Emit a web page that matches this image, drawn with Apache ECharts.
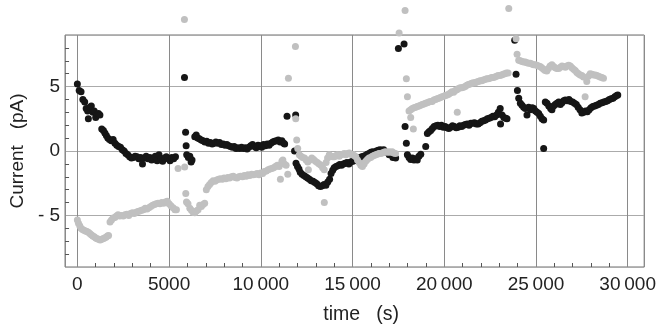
<!DOCTYPE html>
<html><head><meta charset="utf-8">
<script src="https://cdn.jsdelivr.net/npm/echarts@6/dist/echarts.min.js"></script>
<style>html,body{margin:0;padding:0;background:#fff}#c{width:659px;height:333px}</style>
</head><body><div id="c"></div><script>
const xTickValues = [0, 5000, 10000, 15000, 20000, 25000, 30000];
const xTickLabels = ['0', '5000', '10\u2009000', '15\u2009000', '20\u2009000', '25\u2009000', '30\u2009000'];
const yTickValues = [-5, 0, 5];
const yTickLabels = ['- 5', '0', '5'];
const xMinorTicks = [1000,2000,3000,4000,6000,7000,8000,9000,11000,12000,13000,14000,16000,17000,18000,19000,21000,22000,23000,24000,26000,27000,28000,29000];
const yMinorTicks = [-8,-7,-6,-4,-3,-2,-1,1,2,3,4,6,7,8];
const xName = 'time   (s)';
const yName = 'Current   (pA)';

const blackSeries = [
[0,5.2],[100,4.7],[200,4.6],[300,4.0],[400,3.8],[480,3.3],[560,3.1],[600,2.5],[680,3.4],[760,3.5],[850,3.0],[920,3.1],[1000,2.6],[1080,2.8],[1150,2.9],[1230,2.8],[1330,1.7],[1420,1.6],[1500,1.4],[1580,1.2],[1660,1.0],[1750,0.9],[1850,0.8],[1950,0.9],[2050,0.6],[2150,0.45],[2250,0.35],[2350,0.3],[2450,0.1],[2550,0.0],[2650,-0.2],[2750,-0.3],[2850,-0.45],[2950,-0.55],[3050,-0.5],[3150,-0.4],[3250,-0.45],[3350,-0.6],[3450,-0.5],[3550,-1.0],[3650,-0.55],[3750,-0.4],[3850,-0.6],[3950,-0.5],[4050,-0.7],[4150,-0.55],[4250,-0.4],[4350,-0.75],[4450,-0.3],[4550,-0.6],[4650,-0.8],[4750,-0.55],[4850,-0.45],[4950,-0.6],[5050,-0.75],[5150,-0.5],[5250,-0.6],[5350,-0.45],
[5840,5.7],[5900,1.45],[5930,0.4],[5960,-0.3],[6050,-0.5],[6130,-0.4],[6200,-0.85],[6250,-0.7],
[6400,1.1],[6480,1.25],[6560,1.0],[6650,0.95],[6750,0.85],[6850,0.8],[6950,0.7],[7050,0.75],[7150,0.6],[7250,0.65],[7350,0.55],[7450,0.6],[7550,0.7],[7650,0.6],[7750,0.65],[7850,0.5],[7950,0.55],[8050,0.45],[8150,0.5],[8250,0.4],[8350,0.35],[8450,0.3],[8550,0.35],[8650,0.2],[8750,0.25],[8850,0.2],[8950,0.3],[9050,0.2],[9150,0.25],[9250,0.15],[9350,0.3],[9450,0.4],[9550,0.5],[9650,0.35],[9750,0.25],[9850,0.45],[9950,0.4],[10050,0.3],[10150,0.5],[10250,0.4],[10350,0.55],[10450,0.45],[10550,0.6],[10650,0.7],[10750,0.75],[10850,0.8],[10950,0.85],[11050,0.7],[11150,0.8],[11250,0.6],[11300,0.55],
[11430,2.7],[11900,2.8],[11840,0.0],[11920,-0.95],[12000,-1.2],[12080,-1.4],[12150,-1.65],[12250,-1.8],[12350,-1.9],[12450,-2.0],[12550,-2.1],[12650,-2.2],[12750,-2.3],[12850,-2.35],[12950,-2.45],[13050,-2.55],[13150,-2.7],[13250,-2.75],[13350,-2.7],[13450,-2.6],[13550,-2.65],[13650,-2.4],[13750,-2.2],[13830,-1.75],[13920,-1.5],[14000,-1.3],[14100,-1.2],[14200,-1.15],[14300,-1.05],[14400,-1.1],[14500,-1.0],[14600,-0.95],[14700,-0.9],[14800,-1.0],[14900,-0.85],[15000,-0.8],[15100,-0.75],[15200,-0.7],[15300,-0.6],[15400,-0.5],[15500,-0.45],[15600,-0.4],[15700,-0.35],[15800,-0.25],[15900,-0.2],[16000,-0.1],[16100,-0.05],[16200,-0.1],[16300,0.0],[16400,0.05],[16500,0.1],[16600,0.05],[16700,0.1],[16850,-0.1],[17000,-0.3],[17200,-0.5],[17350,-0.55],
[17500,7.95],[17810,8.3],[17865,1.9],[17935,0.6],[17990,-0.3],[18080,-0.5],[18170,-0.65],[18260,-0.55],[18350,-0.7],[18450,-0.6],[18530,-0.7],[18620,-0.4],[18720,-0.25],[18990,0.35],[19080,1.35],[19170,1.5],[19260,1.6],[19350,1.75],[19450,1.9],[19550,1.95],[19650,2.0],[19750,1.9],[19850,2.0],[19950,1.85],[20050,1.9],[20150,1.8],[20250,1.75],[20350,1.85],[20450,1.95],[20550,1.9],[20650,1.8],[20750,1.85],[20850,1.95],[20950,1.9],[21050,2.0],[21150,2.05],[21250,2.1],[21350,2.0],[21450,2.15],[21550,2.15],[21650,2.2],[21750,2.1],[21850,2.1],[21950,2.2],[22050,2.3],[22150,2.35],[22250,2.4],[22350,2.5],[22450,2.55],[22550,2.6],[22650,2.7],[22750,2.65],[22850,2.8],[22950,3.0],[23050,3.3],[23070,2.1],[23150,2.8],[23250,2.6],[23350,2.55],[23420,2.5],
[23840,8.6],[23915,5.95],[23990,4.7],[24060,4.1],[24150,3.7],[24240,3.55],[24330,3.4],[24420,3.3],[24510,2.8],[24600,3.4],[24700,3.2],[24800,3.35],[24880,3.3],[24970,3.1],[25060,3.0],[25150,2.9],[25240,2.7],[25330,2.5],[25420,0.2],[25420,2.4],[25510,3.8],[25600,3.7],[25700,3.5],[25800,3.3],[25870,3.2],[25960,3.5],[26050,3.6],[26140,3.7],[26240,3.8],[26330,3.6],[26420,3.75],[26510,3.9],[26600,3.95],[26700,3.9],[26800,4.0],[26900,3.85],[27000,3.8],[27100,3.7],[27200,3.6],[27300,3.4],[27400,3.2],[27500,2.95],[27600,3.0],[27700,3.1],[27800,3.05],[27900,3.2],[28000,3.35],[28100,3.45],[28200,3.5],[28300,3.55],[28400,3.6],[28500,3.7],[28600,3.75],[28700,3.8],[28800,3.85],[28900,3.9],[29000,4.0],[29100,4.05],[29200,4.1],[29300,4.2],[29400,4.3],[29460,4.35]
];

const graySeries = [
[0,-5.35],[60,-5.6],[130,-5.8],[200,-6.0],[280,-6.1],[360,-6.15],[440,-6.2],[520,-6.25],[600,-6.3],[680,-6.4],[760,-6.5],[840,-6.6],[920,-6.65],[1000,-6.75],[1080,-6.8],[1160,-6.85],[1240,-6.9],[1320,-6.85],[1400,-6.8],[1480,-6.75],[1560,-6.7],[1640,-6.6],[1700,-6.55],
[1780,-5.5],[1860,-5.35],[1950,-5.2],[2040,-5.15],[2130,-5.05],[2220,-4.95],[2310,-5.05],[2400,-5.0],[2500,-5.05],[2600,-4.95],[2700,-4.9],[2800,-5.0],[2900,-4.85],[3000,-4.8],[3100,-4.85],[3200,-4.75],[3300,-4.7],[3400,-4.65],[3500,-4.6],[3600,-4.55],[3700,-4.45],[3800,-4.5],[3900,-4.4],[4000,-4.3],[4100,-4.2],[4200,-4.15],[4300,-4.1],[4400,-4.05],[4500,-4.1],[4600,-4.0],[4700,-4.05],[4800,-3.95],[4900,-3.9],[5000,-4.1],[5100,-4.25],[5220,-4.4],[5320,-4.55],[5400,-4.55],
[5490,-1.35],[5850,-1.25],[5836,10.2],[5910,-3.3],[5950,-3.95],[6030,-4.1],[6130,-4.45],[6220,-4.6],[6310,-4.75],[6400,-4.8],[6490,-4.65],[6580,-4.55],[6670,-4.2],[6760,-4.3],[6850,-4.15],[6940,-4.05],
[7030,-3.0],[7120,-2.75],[7210,-2.6],[7300,-2.45],[7400,-2.3],[7500,-2.35],[7600,-2.25],[7700,-2.2],[7800,-2.15],[7900,-2.2],[8000,-2.1],[8100,-2.15],[8200,-2.05],[8300,-2.1],[8400,-2.0],[8500,-1.95],[8600,-2.05],[8700,-2.1],[8800,-2.0],[8900,-1.95],[9000,-2.0],[9100,-1.9],[9200,-1.95],[9300,-1.85],[9400,-1.9],[9500,-1.8],[9600,-1.85],[9700,-1.8],[9800,-1.75],[9900,-1.85],[10000,-1.7],[10100,-1.75],[10200,-1.6],[10300,-1.55],[10400,-1.45],[10500,-1.4],[10600,-1.35],[10700,-1.3],[10800,-1.2],[10900,-1.1],[11000,-1.2],[11070,-2.2],[11150,-0.8],[11200,-0.7],[11290,-1.0],[11380,-1.1],[11470,-1.8],
[11506,5.65],[11887,8.1],[11904,2.5],[11957,0.85],[12012,0.2],[12100,-0.3],[12190,-0.4],[12280,-0.5],[12380,-0.55],[12470,-0.7],[12560,-0.85],[12594,-1.45],[12680,-0.7],[12780,-0.55],[12880,-0.65],[12980,-0.8],[13080,-0.9],[13180,-1.0],[13280,-1.1],[13370,-1.3],[13460,-1.45],[13462,-4.0],[13560,-0.9],[13640,-0.55],[13734,-0.3],[13830,-0.4],[13920,-0.45],[14010,-0.45],[14100,-0.35],[14190,-0.3],[14280,-0.4],[14370,-0.3],[14460,-0.25],[14550,-0.2],[14640,-0.3],[14730,-0.2],[14820,-0.15],[14910,-0.25],[15000,-0.3],[15090,-0.35],[15180,-0.45],[15270,-0.7],[15360,-0.9],[15450,-1.1],[15540,-1.2],[15630,-1.0],[15720,-0.8],[15810,-0.65],[15900,-0.55],[15990,-0.5],[16080,-0.4],[16170,-0.35],[16260,-0.3],[16350,-0.25],[16440,-0.2],[16530,-0.2],[16620,-0.15],[16710,-0.1],[16800,-0.05],[16890,-0.1],[16980,-0.05],[17070,-0.1],[17160,-0.05],[17250,-0.15],[17340,-0.2],
[17540,9.15],[17865,10.9],[17935,5.6],[17993,4.2],[18172,2.6],[18316,1.7],
[18080,3.1],[18170,3.2],[18260,3.3],[18350,3.35],[18440,3.4],[18530,3.45],[18620,3.5],[18710,3.55],[18800,3.6],[18890,3.65],[18980,3.7],[19070,3.75],[19160,3.8],[19250,3.85],[19340,3.85],[19430,3.95],[19520,4.0],[19610,4.05],[19700,4.1],[19790,4.15],[19880,4.2],[19970,4.25],[20060,4.3],[20150,4.35],[20240,4.4],[20330,4.5],[20420,4.6],[20510,4.55],[20600,4.7],[20690,4.75],[20710,3.0],[20780,4.85],[20870,4.9],[20960,4.9],[21050,4.95],[21140,5.0],[21230,5.1],[21320,5.15],[21410,5.2],[21500,5.25],[21590,5.3],[21680,5.3],[21770,5.35],[21860,5.4],[21950,5.45],[22040,5.45],[22130,5.5],[22220,5.55],[22310,5.6],[22400,5.6],[22490,5.65],[22580,5.7],[22670,5.7],[22760,5.75],[22850,5.8],[22940,5.85],[23030,5.85],[23120,5.9],[23210,5.95],[23300,6.0],[23390,6.05],[23480,6.05],
[23517,11.05],[23915,8.7],[23970,7.5],[24060,7.05],[24150,7.0],[24240,6.95],[24330,6.9],[24420,6.9],[24510,6.85],[24600,6.8],[24690,6.8],[24780,6.75],[24870,6.7],[24960,6.7],[25050,6.65],[25140,6.6],[25230,6.55],[25320,6.45],[25410,6.35],[25500,6.25],[25590,6.2],[25680,6.4],[25770,6.6],[25870,6.7],[25960,6.55],[26050,6.45],[26140,6.4],[26240,6.4],[26330,6.5],[26420,6.6],[26510,6.55],[26600,6.5],[26690,6.6],[26780,6.65],[26870,6.6],[26960,6.45],[27050,6.35],[27140,6.25],[27230,6.1],[27320,6.0],[27410,5.9],[27500,5.85],[27590,5.75],[27680,4.2],[27770,5.4],[27860,5.8],[27955,6.0],[28050,5.95],[28140,5.9],[28230,5.9],[28320,5.85],[28410,5.8],[28500,5.75],[28590,5.7],[28680,5.65]
];

const FONT = '"Liberation Sans", Arial, sans-serif';
const chart = echarts.init(document.getElementById('c'), null, {renderer: 'canvas'});
const xFmt = v => { const i = xTickValues.indexOf(v); return i >= 0 ? xTickLabels[i] : ''; };
const yFmt = v => { const i = yTickValues.indexOf(v); return i >= 0 ? yTickLabels[i] : ''; };
chart.setOption({
  animation: false,
  backgroundColor: '#fff',
  grid: {left: 65, top: 35, width: 581, height: 232, show: true, borderColor: '#6e6e6e', borderWidth: 1, backgroundColor: 'transparent'},
  xAxis: [
    {type: 'value', min: -670, max: 30900, splitNumber: 5, position: 'bottom',
     axisLine: {show: false, onZero: false}, axisTick: {show: false},
     axisLabel: {formatter: xFmt, showMinLabel: false, showMaxLabel: false, margin: 8, color: '#222', fontSize: 19, fontFamily: FONT},
     splitLine: {show: true, lineStyle: {color: '#8a8a8a', width: 1}},
     name: xName, nameLocation: 'middle', nameGap: 38,
     nameTextStyle: {color: '#222', fontSize: 19.5, fontFamily: FONT, padding: [0, 0, 0, 13]}},
    {type: 'value', min: -670, max: 30900, position: 'bottom', gridIndex: 0,
     axisLine: {show: false, onZero: false}, axisLabel: {show: false}, splitLine: {show: false},
     axisTick: {show: true, inside: true, length: 4, customValues: xMinorTicks, lineStyle: {color: '#555'}}}
  ],
  yAxis: [
    {type: 'value', min: -9, max: 9, splitNumber: 3, position: 'left',
     axisLine: {show: false, onZero: false}, axisTick: {show: false},
     axisLabel: {formatter: yFmt, showMinLabel: false, showMaxLabel: false, margin: 5, color: '#222', fontSize: 19, fontFamily: FONT},
     splitLine: {show: true, lineStyle: {color: '#ababab', width: 1}},
     name: yName, nameLocation: 'middle', nameGap: 35, nameRotate: 90,
     nameTextStyle: {color: '#222', fontSize: 19, fontFamily: FONT}},
    {type: 'value', min: -9, max: 9, position: 'left', gridIndex: 0,
     axisLine: {show: false, onZero: false}, axisLabel: {show: false}, splitLine: {show: false},
     axisTick: {show: true, inside: true, length: 4, customValues: yMinorTicks, lineStyle: {color: '#555'}}}
  ],
  series: [
    {type: 'scatter', name: 'black', data: blackSeries, xAxisIndex: 0, yAxisIndex: 0, clip: false,
     symbol: 'circle', symbolSize: 7, itemStyle: {color: '#161616', opacity: 1}, z: 2},
    {type: 'scatter', name: 'gray', data: graySeries, xAxisIndex: 0, yAxisIndex: 0, clip: false,
     symbol: 'circle', symbolSize: 7, itemStyle: {color: '#c0c0c0', opacity: 1}, z: 3}
  ]
});
</script></body></html>
